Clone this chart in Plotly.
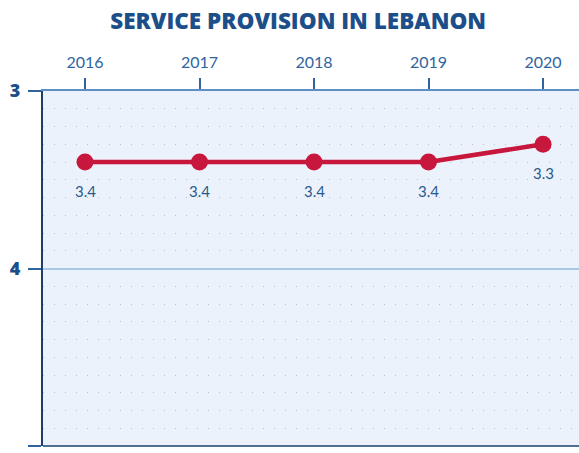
import plotly.graph_objects as go

years = [2016, 2017, 2018, 2019, 2020]
scores = [3.4, 3.4, 3.4, 3.4, 3.3]
labels = ["3.4", "3.4", "3.4", "3.4", "3.3"]
y_ticks = [3, 4, 5]

fig = go.Figure()
fig.add_trace(go.Scatter(
    x=years, y=scores, mode="lines+markers",
    line=dict(color="#c8173c", width=4.5),
    marker=dict(color="#c8173c", size=17),
    hoverinfo="skip", showlegend=False,
))

for x, y, t in zip(years, scores, labels):
    fig.add_annotation(x=x, y=y, text=t, showarrow=False, yshift=-29,
                       font=dict(family="Lato", size=15, color="#2a5a8c"))

fig.add_shape(type="line", xref="paper", yref="paper", x0=0, x1=1, y0=0, y1=0,
              line=dict(color="#4f6f93", width=2))

fig.update_layout(
    width=579, height=453,
    margin=dict(l=43, r=0, t=91, b=7),
    paper_bgcolor="white", plot_bgcolor="#ebf2fb",
    title=dict(text="SERVICE PROVISION IN LEBANON", x=0.515, xanchor="center",
               y=1 - 21 / 453, yanchor="middle", yref="container",
               font=dict(family="Open Sans", size=22.5, color="#1c4f8a", weight=800)),
    xaxis=dict(
        side="top", range=[2015.633, 2020.314], tickvals=years,
        ticktext=[str(y) for y in years],
        ticks="outside", ticklen=11, tickwidth=2, tickcolor="#2f64a0",
        ticklabelstandoff=4,
        tickfont=dict(family="Lato", size=16, color="#2f64a0"),
        showline=True, linecolor="#5d8ec4", linewidth=2,
        showgrid=False, zeroline=False,
    ),
    yaxis=dict(
        range=[5, 3], tickvals=y_ticks, ticktext=[str(v) for v in y_ticks],
        ticks="outside", ticklen=13, tickwidth=2, tickcolor="#2f64a0",
        ticklabelstandoff=4,
        tickfont=dict(family="Open Sans", size=18, color="#1c4f8a", weight=800),
        showline=True, linecolor="#1e3f6a", linewidth=2,
        showgrid=True, gridcolor="#a9c8e6", gridwidth=2, zeroline=False,
        minor=dict(dtick=0.1, showgrid=True, gridcolor="#b9c3cf", gridwidth=1,
                   griddash="1px,10px"),
    ),
)

fig.write_html("out.html", config={"displayModeBar": False},
               post_script="document.body.style.margin='0';document.body.style.overflow='hidden';")
